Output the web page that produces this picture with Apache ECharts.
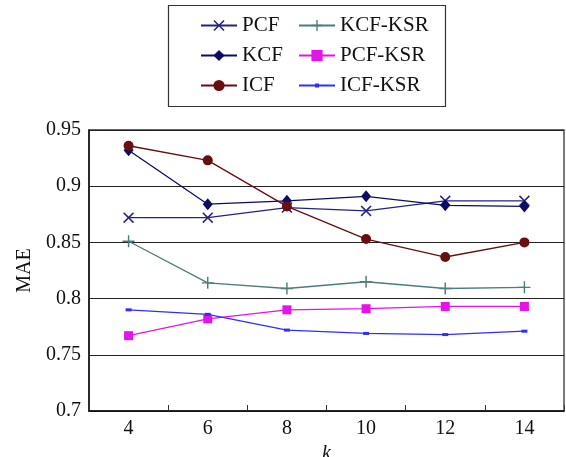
<!DOCTYPE html>
<html>
<head>
<meta charset="utf-8">
<script src="https://cdn.jsdelivr.net/npm/echarts@6/dist/echarts.min.js"></script>
<style>
  html, body { margin: 0; padding: 0; background: #fff; }
  #chart { width: 566px; height: 457px; }
</style>
</head>
<body>
<div id="chart"></div>
<script>
// Neighbourhood size k on the x axis
const kValues = ['4', '6', '8', '10', '12', '14'];

// Mean absolute error for each method
const pcf    = [0.872, 0.872, 0.881, 0.878, 0.887, 0.887];
const kcf    = [0.932, 0.884, 0.887, 0.891, 0.883, 0.882];
const icf    = [0.936, 0.923, 0.882, 0.853, 0.837, 0.850];
const kcfKsr = [0.851, 0.814, 0.809, 0.815, 0.809, 0.810];
const pcfKsr = [0.767, 0.782, 0.790, 0.791, 0.793, 0.793];
const icfKsr = [0.790, 0.786, 0.772, 0.769, 0.768, 0.771];

const yTicks = { min: 0.7, max: 0.95, step: 0.05 };

const FONT = 'Liberation Serif';

const crossPath = 'path://M0,1L1,0L5,4L9,0L10,1L6,5L10,9L9,10L5,6L1,10L0,9L4,5Z';
const plusPath = 'path://M4.4,0H5.6V4.4H10V5.6H5.6V10H4.4V5.6H0V4.4H4.4Z';

function line(name, data, color, symbol, size) {
  return {
    name, type: 'line', data,
    symbol, symbolSize: size,
    lineStyle: { color, width: 1.3 },
    itemStyle: { color },
    emphasis: { disabled: true },
    animation: false,
    z: 3
  };
}

const series = [
  line('PCF', pcf, '#24247e', crossPath, 11),
  line('KCF', kcf, '#0c0c66', 'diamond', [10, 12]),
  line('ICF', icf, '#680d10', 'circle', 10),
  line('KCF-KSR', kcfKsr, '#4c7d7b', plusPath, 12),
  line('PCF-KSR', pcfKsr, '#e214e6', 'rect', 9),
  line('ICF-KSR', icfKsr, '#2f2ff5', 'rect', [6, 3])
];

const legendCommon = {
  orient: 'vertical',
  top: 10,
  itemWidth: 36,
  itemHeight: 14,
  itemGap: 9,
  textStyle: { fontFamily: FONT, fontSize: 21, color: '#111', lineHeight: 21 },
  selectedMode: false
};

const chart = echarts.init(document.getElementById('chart'), null, { renderer: 'canvas' });
chart.setOption({
  backgroundColor: '#fff',
  animation: false,
  textStyle: { fontFamily: FONT },
  legend: [
    Object.assign({}, legendCommon, { left: 195, data: ['PCF', 'KCF', 'ICF'] }),
    Object.assign({}, legendCommon, { left: 293, data: ['KCF-KSR', 'PCF-KSR'] }),
    // the ICF-KSR marker is tiny, so it gets its own legend with a smaller icon
    Object.assign({}, legendCommon, { left: 293, top: 70, itemHeight: 5, data: ['ICF-KSR'] })
  ],
  graphic: [{
    type: 'rect',
    shape: { x: 168.5, y: 5.5, width: 277, height: 101 },
    style: { fill: 'none', stroke: '#333', lineWidth: 1.2 },
    silent: true
  }],
  grid: {
    left: 89, right: 2, top: 130, bottom: 46,
    outerBoundsMode: 'none',
    containLabel: false,
    show: true, borderColor: '#333', borderWidth: 1.3, backgroundColor: 'transparent'
  },
  xAxis: {
    type: 'category',
    data: kValues,
    boundaryGap: true,
    name: 'k',
    nameLocation: 'middle',
    nameGap: 29,
    nameTextStyle: { fontFamily: FONT, fontSize: 20, fontStyle: 'italic', color: '#111' },
    axisLine: { lineStyle: { color: '#111', width: 1.5 } },
    axisTick: { show: true, inside: true, length: 6, lineStyle: { color: '#333' } },
    axisLabel: { fontFamily: FONT, fontSize: 20, color: '#111', margin: 8 },
    splitLine: { show: false }
  },
  yAxis: {
    type: 'value',
    min: yTicks.min,
    max: yTicks.max,
    interval: yTicks.step,
    name: 'MAE',
    nameLocation: 'middle',
    nameRotate: 90,
    nameGap: 54,
    nameTextStyle: { fontFamily: FONT, fontSize: 20, color: '#111' },
    axisLine: { show: true, lineStyle: { color: '#111', width: 1.5 } },
    axisTick: { show: false },
    axisLabel: {
      fontFamily: FONT, fontSize: 20, color: '#111', margin: 8,
      formatter: v => String(parseFloat(v.toFixed(2)))
    },
    splitLine: { show: true, lineStyle: { color: '#222', width: 1 } }
  },
  series
});
</script>
</body>
</html>
